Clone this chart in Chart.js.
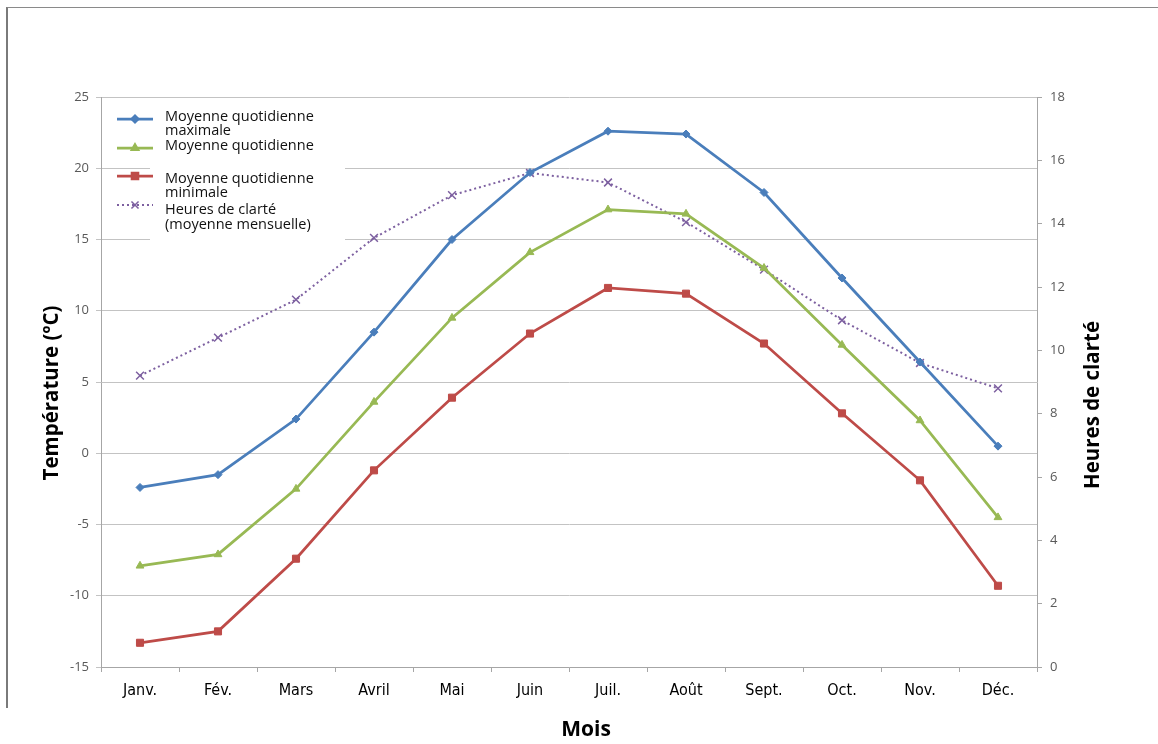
<!DOCTYPE html>
<html lang="fr">
<head>
<meta charset="utf-8">
<title>Températures et heures de clarté</title>
<script src="https://cdn.jsdelivr.net/npm/chart.js@4/dist/chart.umd.min.js"></script>
<style>
  html, body { margin: 0; padding: 0; background: #ffffff; }
  #wrap { position: relative; width: 1158px; height: 744px; overflow: hidden; }
  #c { position: absolute; left: 0; top: 0; }
  #frame {
    position: absolute; left: 6px; top: 7px; width: 1152px; height: 701px;
    border-top: 1px solid #8a8a8a; border-left: 2px solid #7a7a7a;
    box-sizing: border-box; pointer-events: none;
  }
</style>
</head>
<body>
<div id="wrap">
  <canvas id="c" width="1158" height="744"></canvas>
  <div id="frame"></div>
</div>
<script>
// Mois
const months = ['Janv.', 'Fév.', 'Mars', 'Avril', 'Mai', 'Juin', 'Juil.', 'Août', 'Sept.', 'Oct.', 'Nov.', 'Déc.'];

// Températures (°C)
const tempMax  = [-2.4, -1.5, 2.4, 8.5, 15.0, 19.7, 22.6, 22.4, 18.3, 12.3, 6.4, 0.5];
const tempMean = [-7.9, -7.1, -2.5, 3.6, 9.5, 14.1, 17.1, 16.8, 13.0, 7.6, 2.3, -4.5];
const tempMin  = [-13.3, -12.5, -7.4, -1.2, 3.9, 8.4, 11.6, 11.2, 7.7, 2.8, -1.9, -9.3];

// Heures de clarté (moyenne mensuelle)
const daylight = [9.2, 10.4, 11.6, 13.55, 14.9, 15.6, 15.3, 14.05, 12.55, 10.95, 9.6, 8.8];

// Graduations des axes
const tempTicks = { min: -15, max: 25, step: 5 };
const hourTicks = { min: 0, max: 18, step: 2 };

// Libellés
const seriesNames = [
  ['Moyenne quotidienne', 'maximale'],
  ['Moyenne quotidienne'],
  ['Moyenne quotidienne', 'minimale'],
  ['Heures de clarté', '(moyenne mensuelle)']
];
const titleLeft = 'Température (ºC)';
const titleRight = 'Heures de clarté';
const titleBottom = 'Mois';

const COL = {
  blue: '#4a7ebb',
  green: '#98b954',
  red: '#be4b48',
  purple: '#7d60a0',
  grid: '#c3c3c3',
  axis: '#a6a6a6',
  tick: '#595959'
};

const FONT = "'Open Sans', 'Liberation Sans', sans-serif";
const NARROW = "'Liberation Sans Narrow', 'DejaVu Sans Condensed', 'Liberation Sans', sans-serif";

// Légende dessinée dans la zone de tracé, sur fond blanc
const legendBox = {
  id: 'legendBox',
  afterDatasetsDraw(chart) {
    const ctx = chart.ctx;
    ctx.save();
    ctx.fillStyle = '#ffffff';
    ctx.fillRect(150, 100, 195, 146);

    const entries = [
      { color: COL.blue,   style: 'rectRot',  r: 4,   dash: [],     sy: 119, ty: [117, 131] },
      { color: COL.green,  style: 'triangle', r: 4.5, dash: [],     sy: 148, ty: [146] },
      { color: COL.red,    style: 'rect',     r: 5,   dash: [],     sy: 176, ty: [179, 193] },
      { color: COL.purple, style: 'crossRot', r: 5,   dash: [2, 3], sy: 205, ty: [210, 225] }
    ];
    entries.forEach((e, i) => {
      ctx.save();
      ctx.strokeStyle = e.color;
      ctx.lineWidth = e.dash.length ? 2 : 2.75;
      ctx.setLineDash(e.dash);
      ctx.beginPath();
      ctx.moveTo(117, e.sy);
      ctx.lineTo(153, e.sy);
      ctx.stroke();
      ctx.setLineDash([]);
      ctx.fillStyle = e.color;
      ctx.lineWidth = 1.5;
      Chart.helpers.drawPoint(ctx, { pointStyle: e.style, radius: e.r, borderWidth: 1.5, rotation: 0 }, 135, e.sy);
      ctx.restore();

      ctx.fillStyle = '#111111';
      ctx.font = '14.5px ' + FONT;
      ctx.textBaseline = 'middle';
      ctx.textAlign = 'left';
      seriesNames[i].forEach((t, k) => ctx.fillText(t, 165, e.ty[k]));
    });
    ctx.restore();
  }
};

// Titres des axes
const axisTitles = {
  id: 'axisTitles',
  afterDraw(chart) {
    const ctx = chart.ctx;
    ctx.save();
    ctx.fillStyle = '#000000';
    ctx.textAlign = 'center';
    ctx.textBaseline = 'middle';
    ctx.font = 'bold 20.5px ' + FONT;

    ctx.save();
    ctx.translate(52, 393);
    ctx.rotate(-Math.PI / 2);
    ctx.fillText(titleLeft, 0, 0);
    ctx.restore();

    ctx.save();
    ctx.translate(1093, 405);
    ctx.rotate(-Math.PI / 2);
    ctx.fillText(titleRight, 0, 0);
    ctx.restore();

    ctx.font = 'bold 21px ' + FONT;
    ctx.fillText(titleBottom, 586, 730);
    ctx.restore();
  }
};

new Chart(document.getElementById('c'), {
  type: 'line',
  data: {
    labels: months,
    datasets: [
      {
        label: seriesNames[0].join(' '),
        data: tempMax,
        yAxisID: 'y',
        borderColor: COL.blue,
        backgroundColor: COL.blue,
        borderWidth: 2.75,
        pointStyle: 'rectRot',
        pointRadius: 4,
        pointBorderWidth: 1,
        tension: 0
      },
      {
        label: seriesNames[1].join(' '),
        data: tempMean,
        yAxisID: 'y',
        borderColor: COL.green,
        backgroundColor: COL.green,
        borderWidth: 2.75,
        pointStyle: 'triangle',
        pointRadius: 4.5,
        pointBorderWidth: 1,
        tension: 0
      },
      {
        label: seriesNames[2].join(' '),
        data: tempMin,
        yAxisID: 'y',
        borderColor: COL.red,
        backgroundColor: COL.red,
        borderWidth: 2.75,
        pointStyle: 'rect',
        pointRadius: 5,
        pointBorderWidth: 1,
        tension: 0
      },
      {
        label: seriesNames[3].join(' '),
        data: daylight,
        yAxisID: 'y1',
        borderColor: COL.purple,
        backgroundColor: COL.purple,
        borderWidth: 2,
        borderDash: [2, 3],
        pointStyle: 'crossRot',
        pointRadius: 5.5,
        pointBorderWidth: 1.5,
        tension: 0
      }
    ]
  },
  options: {
    responsive: false,
    animation: false,
    devicePixelRatio: 1,
    layout: { padding: { top: 97, left: 0, right: 0, bottom: 0 } },
    plugins: {
      legend: { display: false },
      tooltip: { enabled: false },
      title: { display: false }
    },
    scales: {
      x: {
        type: 'category',
        offset: true,
        grid: { offset: true, drawOnChartArea: false, drawTicks: true, tickLength: 5, color: COL.axis },
        border: { color: COL.axis, width: 1 },
        ticks: { font: { family: NARROW, size: 16 }, color: '#000000', padding: 9, maxRotation: 0, autoSkip: false },
        afterFit(s) { s.height = 77; }
      },
      y: {
        position: 'left',
        min: tempTicks.min,
        max: tempTicks.max,
        ticks: { stepSize: tempTicks.step, font: { family: FONT, size: 13 }, color: COL.tick, padding: 7 },
        grid: { color: COL.grid, lineWidth: 1, drawTicks: true, tickLength: 5 },
        border: { color: COL.axis, width: 1 },
        afterFit(s) { s.width = 101; }
      },
      y1: {
        position: 'right',
        min: hourTicks.min,
        max: hourTicks.max,
        ticks: { stepSize: hourTicks.step, font: { family: FONT, size: 13 }, color: COL.tick, padding: 8 },
        grid: { drawOnChartArea: false, drawTicks: true, tickLength: 5, color: COL.axis },
        border: { color: COL.axis, width: 1 },
        afterFit(s) { s.width = 121; }
      }
    }
  },
  plugins: [legendBox, axisTitles]
});
</script>
</body>
</html>
